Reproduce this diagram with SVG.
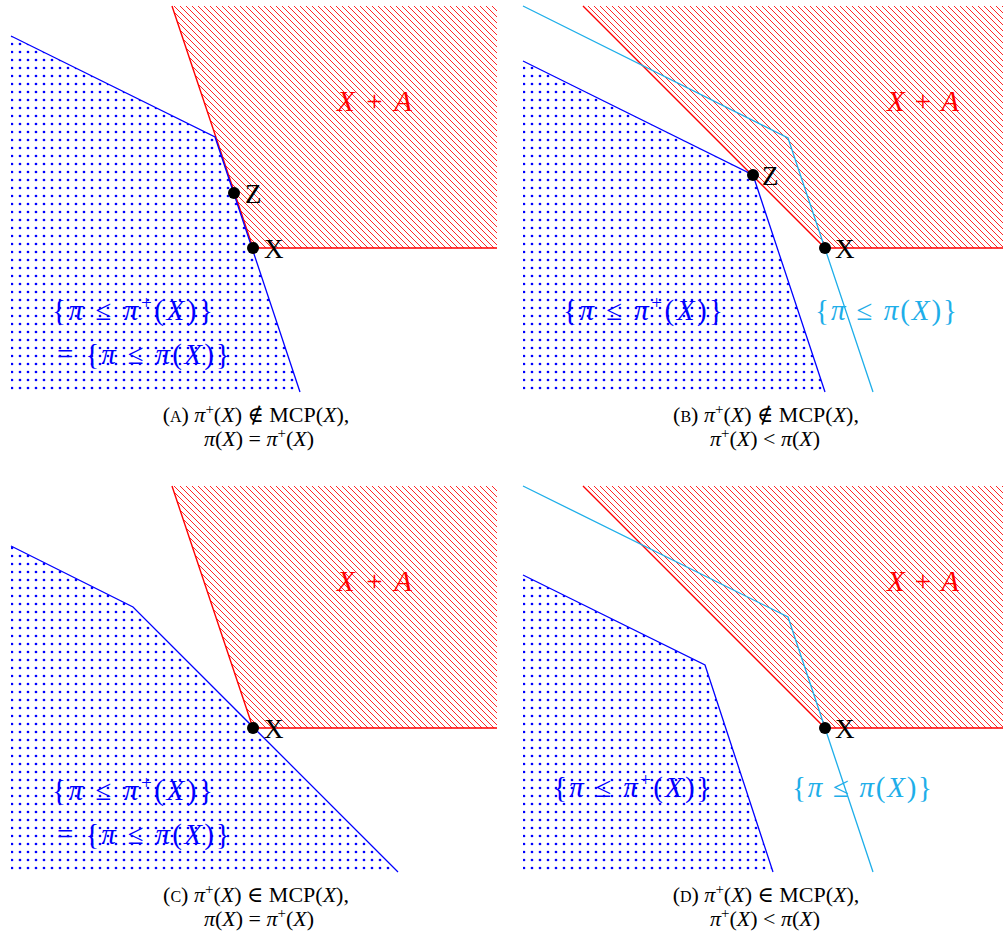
<svg xmlns="http://www.w3.org/2000/svg" width="1003" height="938" viewBox="0 0 1003 938">
<defs>
<pattern id="hatch" patternUnits="userSpaceOnUse" width="6" height="6">
<path d="M0,0 L6,6 M-1,5 L1,7 M5,-1 L7,1" stroke="#ff0000" stroke-width="0.85" fill="none"/>
</pattern>
<pattern id="dots" patternUnits="userSpaceOnUse" x="8" y="0" width="8" height="8">
<circle cx="4" cy="4" r="1.35" fill="#0000ff"/>
</pattern>
<style>
.red-edge{fill:none;stroke:#ff0000;stroke-width:1.4}
.blue-edge{fill:none;stroke:#0000ff;stroke-width:1.3}
.cyan-edge{fill:none;stroke:#1eaee9;stroke-width:1.3}
.pt{fill:#000}
.lbl{font-family:"Liberation Serif","DejaVu Serif",serif;font-size:27px;fill:#000}
.math{font-family:"Liberation Serif","DejaVu Serif",serif;font-size:29px}
.it{font-style:italic}
.sup{font-size:19px}
.red{fill:#ff0000}
.blue{fill:#0000ff}
.cyan{fill:#1eaee9}
.cap{font-family:"Liberation Serif","DejaVu Serif",serif;font-size:22px;fill:#000;text-anchor:middle}
.sc{font-size:16px}
.csup{font-size:15px}
</style>
</defs>

<g id="panel-a">
<polygon points="172,6 497,6 497,248 253,248" fill="url(#hatch)"/>
<polyline class="red-edge" points="172,6 253,248 497,248"/>
<polygon points="11,36 215,137 300,392 11,392" fill="url(#dots)"/>
<polyline class="blue-edge" points="11,36 215,137 300,392"/>
<circle class="pt" cx="234" cy="193" r="6"/>
<circle class="pt" cx="253" cy="248" r="6"/>
<text class="lbl" x="245" y="203">Z</text>
<text class="lbl" x="264" y="258">X</text>
<text class="math red" x="337" y="111" textLength="75" lengthAdjust="spacing"><tspan class="it">X</tspan> + <tspan class="it">A</tspan></text>
<text class="math blue" x="52" y="320" textLength="161" lengthAdjust="spacing">{<tspan class="it">π</tspan> ≤ <tspan class="it">π</tspan><tspan class="sup" dy="-11">+</tspan><tspan dy="11">(</tspan><tspan class="it">X</tspan>)}</text>
<text class="math blue" x="57" y="364" textLength="173" lengthAdjust="spacing">= {<tspan class="it">π</tspan> ≤ <tspan class="it">π</tspan>(<tspan class="it">X</tspan>)}</text>
<text class="cap" x="256" y="422">(<tspan class="sc">A</tspan>) <tspan class="it">π</tspan><tspan class="csup" dy="-8">+</tspan><tspan dy="8">(</tspan><tspan class="it">X</tspan>) ∉ MCP(<tspan class="it">X</tspan>),</text>
<text class="cap" x="259" y="446"><tspan class="it">π</tspan>(<tspan class="it">X</tspan>) = <tspan class="it">π</tspan><tspan class="csup" dy="-8">+</tspan><tspan dy="8">(</tspan><tspan class="it">X</tspan>)</text>
</g>

<g id="panel-b">
<polygon points="583,6 1003,6 1003,248 825,248" fill="url(#hatch)"/>
<polyline class="red-edge" points="583,6 825,248 1003,248"/>
<polygon points="523,61 753,175 825,392 523,392" fill="url(#dots)"/>
<polyline class="blue-edge" points="523,61 753,175 825,392"/>
<polyline class="cyan-edge" points="523,6 788,138 873,392"/>
<circle class="pt" cx="753" cy="175" r="6"/>
<circle class="pt" cx="825" cy="248" r="6"/>
<text class="lbl" x="762" y="185">Z</text>
<text class="lbl" x="835" y="258">X</text>
<text class="math red" x="887" y="111" textLength="72" lengthAdjust="spacing"><tspan class="it">X</tspan> + <tspan class="it">A</tspan></text>
<text class="math blue" x="563" y="320" textLength="160" lengthAdjust="spacing">{<tspan class="it">π</tspan> ≤ <tspan class="it">π</tspan><tspan class="sup" dy="-11">+</tspan><tspan dy="11">(</tspan><tspan class="it">X</tspan>)}</text>
<text class="math cyan" x="815" y="320" textLength="142" lengthAdjust="spacing">{<tspan class="it">π</tspan> ≤ <tspan class="it">π</tspan>(<tspan class="it">X</tspan>)}</text>
<text class="cap" x="766" y="422">(<tspan class="sc">B</tspan>) <tspan class="it">π</tspan><tspan class="csup" dy="-8">+</tspan><tspan dy="8">(</tspan><tspan class="it">X</tspan>) ∉ MCP(<tspan class="it">X</tspan>),</text>
<text class="cap" x="765" y="446"><tspan class="it">π</tspan><tspan class="csup" dy="-8">+</tspan><tspan dy="8">(</tspan><tspan class="it">X</tspan>) &lt; <tspan class="it">π</tspan>(<tspan class="it">X</tspan>)</text>
</g>

<g id="panel-c">
<polygon points="172,486 497,486 497,728 253,728" fill="url(#hatch)"/>
<polyline class="red-edge" points="172,486 253,728 497,728"/>
<polygon points="11,546 133,607 398,872 11,872" fill="url(#dots)"/>
<polyline class="blue-edge" points="11,546 133,607 398,872"/>
<circle class="pt" cx="253" cy="728" r="6"/>
<text class="lbl" x="264" y="738">X</text>
<text class="math red" x="337" y="591" textLength="75" lengthAdjust="spacing"><tspan class="it">X</tspan> + <tspan class="it">A</tspan></text>
<text class="math blue" x="52" y="800" textLength="161" lengthAdjust="spacing">{<tspan class="it">π</tspan> ≤ <tspan class="it">π</tspan><tspan class="sup" dy="-11">+</tspan><tspan dy="11">(</tspan><tspan class="it">X</tspan>)}</text>
<text class="math blue" x="57" y="844" textLength="173" lengthAdjust="spacing">= {<tspan class="it">π</tspan> ≤ <tspan class="it">π</tspan>(<tspan class="it">X</tspan>)}</text>
<text class="cap" x="256" y="902">(<tspan class="sc">C</tspan>) <tspan class="it">π</tspan><tspan class="csup" dy="-8">+</tspan><tspan dy="8">(</tspan><tspan class="it">X</tspan>) ∈ MCP(<tspan class="it">X</tspan>),</text>
<text class="cap" x="259" y="926"><tspan class="it">π</tspan>(<tspan class="it">X</tspan>) = <tspan class="it">π</tspan><tspan class="csup" dy="-8">+</tspan><tspan dy="8">(</tspan><tspan class="it">X</tspan>)</text>
</g>

<g id="panel-d">
<polygon points="583,486 1003,486 1003,728 825,728" fill="url(#hatch)"/>
<polyline class="red-edge" points="583,486 825,728 1003,728"/>
<polygon points="523,575 705,665 773,872 523,872" fill="url(#dots)"/>
<polyline class="blue-edge" points="523,575 705,665 773,872"/>
<polyline class="cyan-edge" points="523,486 788,617 873,872"/>
<circle class="pt" cx="825" cy="728" r="6"/>
<text class="lbl" x="835" y="738">X</text>
<text class="math red" x="887" y="591" textLength="72" lengthAdjust="spacing"><tspan class="it">X</tspan> + <tspan class="it">A</tspan></text>
<text class="math blue" x="553" y="797" textLength="158" lengthAdjust="spacing">{<tspan class="it">π</tspan> ≤ <tspan class="it">π</tspan><tspan class="sup" dy="-11">+</tspan><tspan dy="11">(</tspan><tspan class="it">X</tspan>)}</text>
<text class="math cyan" x="792" y="797" textLength="140" lengthAdjust="spacing">{<tspan class="it">π</tspan> ≤ <tspan class="it">π</tspan>(<tspan class="it">X</tspan>)}</text>
<text class="cap" x="766" y="902">(<tspan class="sc">D</tspan>) <tspan class="it">π</tspan><tspan class="csup" dy="-8">+</tspan><tspan dy="8">(</tspan><tspan class="it">X</tspan>) ∈ MCP(<tspan class="it">X</tspan>),</text>
<text class="cap" x="765" y="926"><tspan class="it">π</tspan><tspan class="csup" dy="-8">+</tspan><tspan dy="8">(</tspan><tspan class="it">X</tspan>) &lt; <tspan class="it">π</tspan>(<tspan class="it">X</tspan>)</text>
</g>
</svg>
